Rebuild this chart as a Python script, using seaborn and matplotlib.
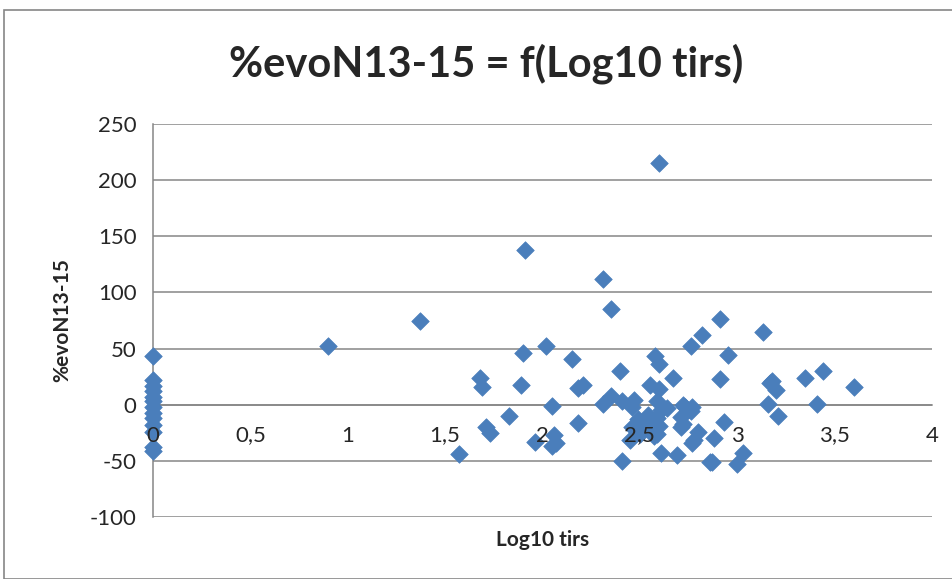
import matplotlib
matplotlib.use("Agg")
import matplotlib.pyplot as plt
import seaborn as sns
import pandas as pd
from matplotlib.patches import Rectangle

# points at log10(tirs) = 0
x_zero = [0, 0, 0, 0, 0, 0, 0, 0, 0, 0, 0, 0, 0]
y_zero = [43, 22, 17, 12, 7, 3, -2, -7, -12, -18, -24, -38, -41]

# other points
x_vals = [0.90, 1.37, 1.57, 1.68, 1.69, 1.71, 1.73, 1.83, 1.90, 1.89, 1.91, 1.96,
          2.02, 2.05, 2.06, 2.07, 2.05, 2.15, 2.18, 2.21, 2.18, 2.31, 2.35, 2.60,
          2.31, 2.35, 2.40, 2.41, 2.47, 2.46, 2.49, 2.46, 2.45, 2.41,
          2.50, 2.54, 2.54, 2.55, 2.58, 2.59, 2.60, 2.60, 2.61, 2.59, 2.64, 2.60,
          2.59, 2.57, 2.61, 2.67, 2.69, 2.72, 2.73, 2.76, 2.71, 2.72, 2.71,
          2.76, 2.77, 2.80, 2.82, 2.77, 2.78, 2.88, 2.87, 2.86, 2.91, 2.91,
          2.93, 2.95, 3.00, 3.03, 3.13, 3.16, 3.18, 3.20, 3.17, 3.21, 3.35,
          3.41, 3.44, 3.60]
y_vals = [52, 75, -44, 24, 16, -20, -25, -10, 46, 18, 138, -33,
          52, -1, -27, -34, -37, 41, 15, 18, -16, 112, 85, 215,
          1, 8, 30, 3, 4, -2, -13, -20, -31, -50,
          -26, -9, -19, 18, 43, 3, 36, 14, -5, -12, -3, -19,
          -26, -28, -43, 24, -45, 0, -2, 52, -11, -17, -20,
          -6, -34, -24, 62, -2, -31, -30, -51, -51, 76, 23,
          -15, 44, -53, -43, 65, 1, 21, 13, 19, -10, 24,
          1, 30, 16]

df = pd.DataFrame({"x": x_zero + x_vals, "y": y_zero + y_vals})

sns.set_style("white")
plt.rcParams["font.family"] = ["Lato", "DejaVu Sans"]
plt.rcParams["axes.unicode_minus"] = False

W, H = 953, 579
fig = plt.figure(figsize=(W / 100, H / 100), dpi=100)
ax = fig.add_axes([153 / W, 1 - 517 / H, (932 - 153) / W, (517 - 124) / H])

# outer chart frame
fig.patches.append(Rectangle((4 / W, 0), 1, 1 - 10 / H, transform=fig.transFigure,
                             fill=False, edgecolor="#868686", linewidth=1.2))

sns.scatterplot(data=df, x="x", y="y", marker="D", s=80, color="#4A7EBB",
                edgecolor="#4A7EBB", linewidth=0.5, ax=ax, zorder=3, clip_on=False)

ax.set_xlim(0, 4)
ax.set_ylim(-100, 250)
ax.set_yticks(range(-100, 251, 50))
ax.set_xticks([0, 0.5, 1, 1.5, 2, 2.5, 3, 3.5, 4])
ax.set_xticklabels(["0", "0,5", "1", "1,5", "2", "2,5", "3", "3,5", "4"])
ax.yaxis.grid(True, color="#868686", linewidth=1.1)
ax.set_axisbelow(True)
ax.xaxis.set_zorder(4)

for side in ["top", "right"]:
    ax.spines[side].set_visible(False)
ax.spines["bottom"].set_position(("data", 0))
ax.spines["bottom"].set_color("#868686")
ax.spines["left"].set_color("#868686")
ax.spines["bottom"].set_linewidth(1.1)
ax.spines["left"].set_linewidth(1.1)

ax.tick_params(axis="x", direction="out", length=6, color="#868686", labelsize=16, pad=9)
ax.tick_params(axis="y", direction="out", length=6, color="#868686", labelsize=16, pad=6)

ax.set_xlabel("")
ax.set_ylabel("")
fig.text((153 + 932) / 2 / W, 1 - 540 / H, "Log10 tirs", ha="center", va="center",
         fontsize=15, fontweight="bold")
fig.text(62 / W, 1 - 320 / H, "%evoN13-15", ha="center", va="center",
         rotation=90, fontsize=15, fontweight="bold")
fig.text(486 / W, 1 - 64 / H, "%evoN13-15 = f(Log10 tirs)", ha="center", va="center",
         fontsize=30, fontweight="bold")

fig.savefig("out.png", dpi=100)
